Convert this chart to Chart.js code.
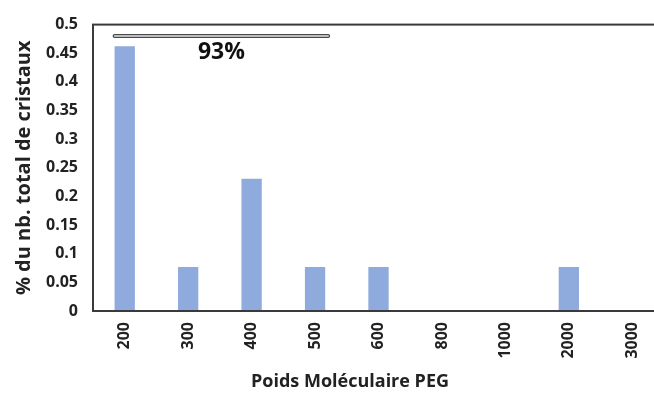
<!DOCTYPE html>
<html>
<head>
<meta charset="utf-8">
<script src="https://cdn.jsdelivr.net/npm/chart.js@4"></script>
<style>
  html, body { margin: 0; padding: 0; background: #fff; overflow: hidden; }
  #wrap { width: 700px; height: 394px; }
</style>
</head>
<body>
<div id="wrap"><canvas id="grafico" width="700" height="394"></canvas></div>
<script>
// Datos del gráfico
const categorias = ['200', '300', '400', '500', '600', '800', '1000', '2000', '3000'];
const porcentajes = [0.462, 0.077, 0.231, 0.077, 0.077, 0, 0, 0.077, 0];
const ticksY = [0, 0.05, 0.1, 0.15, 0.2, 0.25, 0.3, 0.35, 0.4, 0.45, 0.5];
const tituloX = 'Poids Moléculaire PEG';
const tituloY = '% du nb. total de cristaux';
const etiquetaGrupo = '93%';
const grupoDesde = 0, grupoHasta = 3, grupoY = 0.48, etiquetaY = 0.452;

const fuente = '"Open Sans", sans-serif';
const gris = '#3a3a3a';

// Cuadro del área, corchete con 93% y título del eje X
const extras = {
  id: 'extras',
  afterDraw(chart) {
    const ctx = chart.ctx;
    const a = chart.chartArea;
    const y = chart.scales.y;
    const barras = chart.getDatasetMeta(0).data;
    ctx.save();
    ctx.strokeStyle = gris;
    ctx.lineWidth = 2;
    ctx.strokeRect(a.left, a.top, a.right - a.left, a.bottom - a.top);

    // corchete
    const x1 = barras[grupoDesde].x - barras[grupoDesde].width / 2;
    const x2 = barras[grupoHasta].x + barras[grupoHasta].width / 2 + 3;
    const yb = y.getPixelForValue(grupoY);
    ctx.lineCap = 'round';
    ctx.lineWidth = 4;
    ctx.strokeStyle = '#4a4a4a';
    ctx.beginPath(); ctx.moveTo(x1, yb); ctx.lineTo(x2, yb); ctx.stroke();
    ctx.lineWidth = 1.5;
    ctx.strokeStyle = '#e4e4e4';
    ctx.beginPath(); ctx.moveTo(x1, yb); ctx.lineTo(x2, yb); ctx.stroke();

    ctx.fillStyle = '#111';
    ctx.font = 'bold 23px ' + fuente;
    ctx.textAlign = 'center';
    ctx.textBaseline = 'middle';
    ctx.fillText(etiquetaGrupo, (x1 + x2) / 2, y.getPixelForValue(etiquetaY));

    // título eje X
    ctx.fillStyle = '#222';
    ctx.font = 'bold 18px ' + fuente;
    ctx.fillText(tituloX, chart.width / 2, chart.height - 12);
    ctx.restore();
  }
};

new Chart(document.getElementById('grafico'), {
  type: 'bar',
  data: {
    labels: categorias,
    datasets: [{
      data: porcentajes,
      backgroundColor: '#8faadc',
      borderWidth: 0,
      barPercentage: 0.32,
      categoryPercentage: 1
    }]
  },
  options: {
    responsive: false,
    animation: false,
    layout: { padding: { top: 14, right: 36, left: 0, bottom: 0 } },
    plugins: { legend: { display: false }, tooltip: { enabled: false } },
    scales: {
      x: {
        grid: { display: false, drawTicks: false },
        border: { display: false },
        ticks: {
          minRotation: 90, maxRotation: 90, padding: 11,
          color: '#222', font: { family: fuente, size: 16, weight: 'bold' }
        },
        afterFit(scale) { scale.height = 83; }
      },
      y: {
        min: 0, max: 0.5,
        afterBuildTicks(scale) { scale.ticks = ticksY.map(v => ({ value: v })); },
        grid: { display: false, drawTicks: false },
        border: { display: false },
        ticks: {
          padding: 15,
          color: '#222',
          font: { family: fuente, size: 16, weight: 'bold' },
          callback: v => String(+v.toFixed(2))
        },
        title: {
          display: true, text: tituloY, color: '#222',
          font: { family: fuente, size: 20, weight: 'bold' },
          padding: { top: 12, bottom: 0 }
        },
        afterFit(scale) { scale.width = 93; }
      }
    }
  },
  plugins: [extras]
});
</script>
</body>
</html>
